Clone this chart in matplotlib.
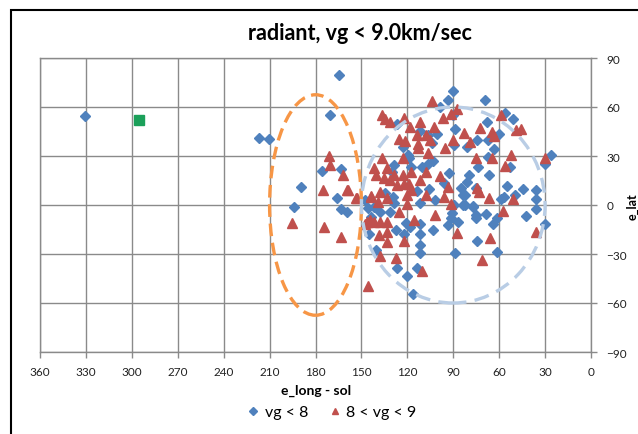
import matplotlib
matplotlib.use('Agg')
import matplotlib.pyplot as plt
from matplotlib.patches import Ellipse, Rectangle
from matplotlib.lines import Line2D

plt.rcParams['font.family'] = ['Lato', 'DejaVu Sans']

# ---- data ----
blue_lon = [330.6, 216.7, 210.6, 164.4, 170.5, 175.9, 163.1, 189.4, 166.0, 194.2, 163.5, 159.6,
            90.2, 93.3, 69.5, 98.9, 90.0, 56.4, 51.2, 67.7, 126.7, 88.9, 112.0, 106.6, 100.5, 60.1,
            74.3, 67.1, 123.0, 80.8, 63.4, 89.6, 103.7, 26.3, 29.8, 67.1, 118.6, 103.1, 106.6, 128.8,
            117.9, 110.7, 73.8, 52.9, 129.9, 92.8, 79.7, 66.9, 55.1, 44.4, 36.1, 36.1, 106.1, 96.1,
            84.8, 81.3, 75.4, 113.6, 111.4, 102.0, 82.4, 82.4, 77.1, 56.8, 58.6, 49.9, 89.6, 91.1,
            128.8, 131.0, 137.6, 141.9, 147.4, 145.9, 129.3, 134.7, 143.7, 145.2, 140.2, 126.7, 120.1,
            114.0, 111.4, 111.4, 111.8, 122.3, 118.4, 112.0, 127.1, 103.1, 93.5, 91.7, 74.9, 68.8,
            75.4, 64.0, 61.2, 42.4, 36.1, 29.8, 74.3, 61.6, 89.1, 119.3, 120.8, 86.7, 83.4, 76.9,
            83.4, 116.5]
blue_lat = [54.6, 41.0, 40.6, 79.6, 55.2, 20.6, 21.9, 11.3, 4.0, -1.5, -2.5, -4.1,
            69.6, 64.1, 64.1, 60.0, 55.0, 56.5, 52.5, 50.8, 49.4, 46.8, 45.4, 42.7, 43.7, 43.7,
            39.7, 39.7, 35.6, 35.6, 34.2, 36.6, 38.2, 30.5, 25.4, 29.5, 28.9, 26.8, 24.8, 24.4,
            23.4, 23.4, 23.4, 23.4, 20.3, 19.3, 18.3, 18.3, 11.8, 9.8, 9.2, 3.7, 9.6, 13.2,
            10.2, 13.8, 10.2, 8.5, 1.0, 3.0, 6.1, 0.0, -0.6, 5.1, 3.7, 6.1, 0.0, -5.1,
            1.0, -4.1, -4.1, -1.0, 3.0, -2.0, 5.1, 7.1, -7.1, -17.9, -27.5, -38.6, -43.7,
            -38.6, -29.5, -24.4, -17.9, -17.9, -13.2, -11.8, -15.3, -15.3, -12.2, -7.7, -6.1, -5.7,
            -8.1, -11.8, -7.7, -6.5, -2.6, -11.6, -21.8, -28.5, -29.5, 30.4, -11.3, -10.2, 0.0, -1.0,
            6.0, -54.6]

red_lon = [171.2, 170.5, 161.8, 175.3, 159.2, 195.5, 174.2, 163.1, 145.5, 153.5,
           104.2, 87.4, 136.5, 134.7, 122.3, 131.0, 112.0, 118.4, 96.8, 91.7, 59.0, 102.7, 72.5,
           83.0, 64.5, 63.4, 45.9, 49.2, 113.6, 108.1, 125.6, 121.2, 113.1, 113.1, 105.3, 90.2,
           79.1, 95.5, 106.6, 52.0, 30.2, 75.4, 64.9, 56.2, 136.5, 123.0, 141.9, 133.2, 140.2,
           128.8, 122.7, 117.3, 107.5, 98.7, 135.4, 131.5, 122.3, 119.0, 126.7, 111.4, 93.3, 74.3,
           73.2, 152.8, 143.5, 138.0, 139.3, 133.2, 120.5, 117.9, 108.1, 120.1, 125.6, 96.1, 91.3,
           66.7, 50.7, 57.5, 102.0, 146.3, 141.9, 137.6, 133.2, 147.4, 133.2, 138.6, 133.6, 122.3,
           115.7, 87.4, 66.2, 35.7, 137.6, 127.3, 110.3, 71.0, 144.4, 158.6, 144.0]
red_lat = [30.0, 24.7, 18.2, 9.0, 9.0, -10.8, -13.7, -19.8, -49.5, 4.0,
           63.5, 58.6, 55.3, 52.5, 53.3, 50.8, 50.8, 47.8, 53.3, 55.9, 55.3, 47.8, 47.2,
           44.3, 44.7, 42.3, 46.8, 45.8, 42.7, 42.7, 40.3, 39.1, 37.6, 34.6, 39.7, 39.7,
           38.6, 34.6, 32.1, 30.5, 28.5, 28.5, 28.5, 24.0, 28.5, 28.9, 22.8, 22.4, 18.3,
           18.3, 18.3, 20.3, 19.9, 17.9, 16.3, 15.3, 12.6, 12.6, 12.2, 15.3, 11.2, 10.2,
           7.7, 4.5, 5.7, 8.1, 1.6, 4.5, 6.1, 9.2, 6.1, 0.4, -4.1, 5.1, 0.4,
           4.5, 3.7, -3.5, -6.1, -10.2, -10.6, -10.6, -10.6, -11.8, -16.3, -18.3, -22.4, -22.0,
           -9.2, -17.3, -19.9, -16.3, -31.1, -32.6, -40.7, -33.6, -9.2, 9.0, 5.0]

green_lon = [295.0]
green_lat = [52.0]

x_ticks = [360, 330, 300, 270, 240, 210, 180, 150, 120, 90, 60, 30, 0]
y_ticks = [-90, -60, -30, 0, 30, 60, 90]
legend_labels = ['vg < 8', '8 < vg < 9']

BLUE = '#4F81BD'
RED = '#C0504D'
GREEN = '#1BA05A'
GRID = '#8A8A8A'

W, H = 638, 435
fig = plt.figure(figsize=(W / 100, H / 100), dpi=100)
ax = fig.add_axes([40 / W, 82 / H, 551 / W, 294 / H])

ax.set_xlim(360, 0)
ax.set_ylim(-90, 90)
ax.set_xticks(x_ticks)
ax.set_yticks(y_ticks)
ax.grid(True, color=GRID, lw=1.0)
ax.set_axisbelow(True)
for s in ax.spines.values():
    s.set_color(GRID)
    s.set_linewidth(1.0)
ax.yaxis.tick_right()
ax.tick_params(axis='both', direction='out', length=4, color=GRID, width=1,
               labelsize=8.5, labelcolor='#222222')
ax.tick_params(axis='x', pad=6)
ax.tick_params(axis='y', pad=7)

ax.plot(blue_lon, blue_lat, ls='none', marker='D', ms=5.5, color=BLUE, mec=BLUE, zorder=3)
ax.plot(red_lon, red_lat, ls='none', marker='^', ms=7, color=RED, mec=RED, zorder=3)
ax.plot(green_lon, green_lat, ls='none', marker='s', ms=6.5, color=GREEN, mec=GREEN, zorder=3)

ax.add_patch(Ellipse((180, 0), 60, 135, fill=False, edgecolor='#F79646', lw=2.4,
                     linestyle=(0, (3.8, 2.0)), zorder=5))
ax.add_patch(Ellipse((90, 0), 120, 120, fill=False, edgecolor='#B9CDE5', lw=2.4,
                     linestyle=(0, (4.5, 2.5)), zorder=5))

fig.text(360 / W, 1 - 33 / H, 'radiant, vg < 9.0km/sec', ha='center', va='center',
         fontsize=15.5, fontweight='bold')
fig.text(316 / W, 1 - 391 / H, 'e_long - sol', ha='center', va='center',
         fontsize=10, fontweight='bold')
fig.text(626 / W, 1 - 207 / H, 'e_lat', ha='left', va='center', rotation=90,
         fontsize=9, fontweight='bold')

handles = [Line2D([], [], ls='none', marker='D', ms=4, color=BLUE),
           Line2D([], [], ls='none', marker='^', ms=5, color=RED)]
fig.legend(handles, legend_labels, loc='center', bbox_to_anchor=(331 / W, 1 - 413 / H),
           ncol=2, frameon=False, fontsize=11.5, handletextpad=0.2, columnspacing=1.2,
           handlelength=1.0)

fig.patches.append(Rectangle((11 / W, -0.5), 2, 0.5 + 1 - 11 / H, transform=fig.transFigure,
                             fill=False, edgecolor='black', lw=1.5))

fig.savefig('out.png', dpi=100)
